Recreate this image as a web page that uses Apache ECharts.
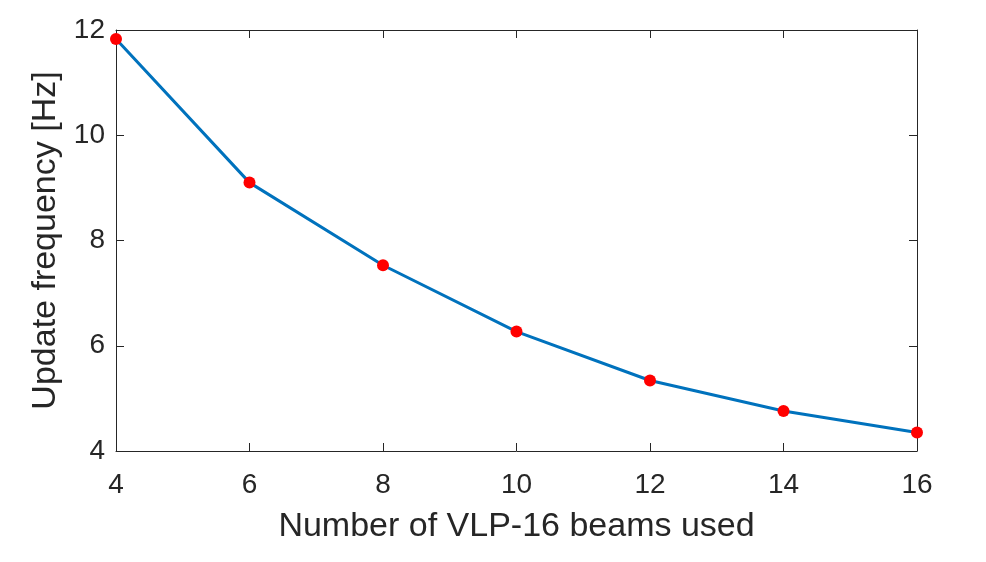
<!DOCTYPE html>
<html>
<head>
<meta charset="utf-8">
<script src="https://cdn.jsdelivr.net/npm/echarts@6/dist/echarts.min.js"></script>
<style>
html, body { margin: 0; padding: 0; background: #fff; }
#chartContainer { width: 986px; height: 562px; }
</style>
</head>
<body>
<div id="chartContainer"></div>
<script>
var beams = [4, 6, 8, 10, 12, 14, 16];
var frequency = [11.83, 9.10, 7.53, 6.27, 5.34, 4.76, 4.35];
var xTicks = [4, 6, 8, 10, 12, 14, 16];
var yTicks = [4, 6, 8, 10, 12];

var points = beams.map(function (b, i) { return [b, frequency[i]]; });

var labelFont = {
    color: '#262626',
    fontFamily: 'Liberation Sans',
    fontSize: 28
};
var nameFont = { color: '#262626', fontFamily: 'Liberation Sans', fontSize: 34 };
var boxLine = { show: true, lineStyle: { color: '#262626', width: 1 } };
var boxTick = { show: true, inside: true, length: 8, lineStyle: { color: '#262626' } };

option = {
    animation: false,
    grid: {
        left: 116,
        right: 69,
        top: 30,
        bottom: 111
    },
    xAxis: [
        {
            type: 'value',
            min: xTicks[0],
            max: xTicks[xTicks.length - 1],
            interval: 2,
            axisLine: boxLine,
            axisTick: boxTick,
            splitLine: { show: false },
            axisLabel: Object.assign({ margin: 20 }, labelFont),
            name: 'Number of VLP-16 beams used',
            nameLocation: 'middle',
            nameGap: 59,
            nameTextStyle: nameFont
        },
        {
            type: 'value',
            position: 'top',
            min: xTicks[0],
            max: xTicks[xTicks.length - 1],
            interval: 2,
            axisLine: boxLine,
            axisTick: boxTick,
            splitLine: { show: false },
            axisLabel: { show: false }
        }
    ],
    yAxis: [
        {
            type: 'value',
            min: yTicks[0],
            max: yTicks[yTicks.length - 1],
            interval: 2,
            axisLine: boxLine,
            axisTick: boxTick,
            splitLine: { show: false },
            axisLabel: Object.assign({ margin: 11 }, labelFont),
            name: 'Update frequency [Hz]',
            nameLocation: 'middle',
            nameGap: 52,
            nameTextStyle: nameFont
        },
        {
            type: 'value',
            position: 'right',
            min: yTicks[0],
            max: yTicks[yTicks.length - 1],
            interval: 2,
            axisLine: boxLine,
            axisTick: boxTick,
            splitLine: { show: false },
            axisLabel: { show: false }
        }
    ],
    series: [
        {
            type: 'line',
            data: points,
            symbol: 'circle',
            symbolSize: 12,
            itemStyle: { color: '#ff0000' },
            lineStyle: { color: '#0072bd', width: 3 },
            z: 3
        }
    ]
};

var chart = echarts.init(document.getElementById('chartContainer'));
chart.setOption(option);
</script>
</body>
</html>
